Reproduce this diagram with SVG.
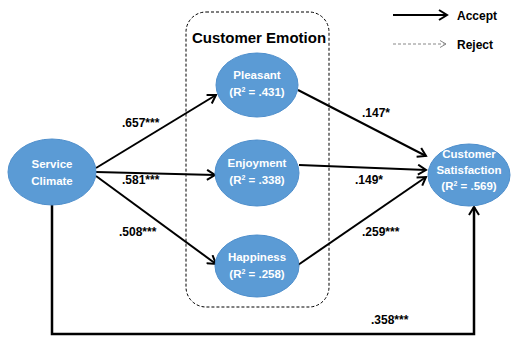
<svg xmlns="http://www.w3.org/2000/svg" width="512" height="338" viewBox="0 0 512 338">
<defs>
<marker id="ah" markerWidth="12" markerHeight="12" refX="9" refY="6" orient="auto" markerUnits="userSpaceOnUse">
<path d="M1,1 L9,6 L1,11" fill="none" stroke="#000" stroke-width="2"/>
</marker>
<marker id="ahg" markerWidth="10" markerHeight="10" refX="7" refY="5" orient="auto" markerUnits="userSpaceOnUse">
<path d="M1,1.5 L7,5 L1,8.5" fill="none" stroke="#888" stroke-width="1"/>
</marker>
</defs>
<style>
.node{fill:#5b9bd5;stroke:#4f8fcc;stroke-width:1}
.nt{font-family:"Liberation Sans",Arial,sans-serif;font-weight:bold;font-size:11.5px;fill:#fff;text-anchor:middle}
.lbl{font-family:"Liberation Sans",Arial,sans-serif;font-weight:bold;font-size:12px;fill:#000}
.edge{fill:none;stroke:#000;stroke-width:2;marker-end:url(#ah)}
</style>
<rect width="512" height="338" fill="#fff"/>
<g id="group-emotion">
<rect x="186" y="12" width="143" height="295" rx="20" ry="20" fill="none" stroke="#000" stroke-width="1" stroke-dasharray="3,2"/>
<text x="259" y="43" font-family="Liberation Sans,Arial,sans-serif" font-weight="bold" font-size="15" text-anchor="middle" fill="#000">Customer Emotion</text>
</g>
<g id="legend">
<line x1="393" y1="15" x2="447" y2="15" stroke="#000" stroke-width="2" marker-end="url(#ah)"/>
<text x="457" y="20" class="lbl" font-size="13">Accept</text>
<line x1="393" y1="44" x2="446" y2="44" stroke="#888" stroke-width="1" stroke-dasharray="3,2" marker-end="url(#ahg)"/>
<text x="457" y="49" class="lbl" font-size="13">Reject</text>
</g>
<g id="connectors">
<line class="edge" x1="96" y1="168" x2="216" y2="95"/>
<line class="edge" x1="96" y1="172" x2="215" y2="175"/>
<line class="edge" x1="96" y1="176" x2="216" y2="264"/>
<line class="edge" x1="298" y1="90" x2="426" y2="156"/>
<line class="edge" x1="299" y1="165" x2="426" y2="170"/>
<line class="edge" x1="298" y1="265" x2="426" y2="177"/>
<polyline points="52,205 52,334 474,334 474,207" fill="none" stroke="#000" stroke-width="2.5" marker-end="url(#ah)"/>
<text class="lbl" x="122" y="127">.657***</text>
<text class="lbl" x="122" y="184">.581***</text>
<text class="lbl" x="119" y="236">.508***</text>
<text class="lbl" x="362" y="117">.147*</text>
<text class="lbl" x="355" y="184">.149*</text>
<text class="lbl" x="362" y="236">.259***</text>
<text class="lbl" x="371" y="324">.358***</text>
</g>
<g id="node-service-climate">
<ellipse class="node" cx="52" cy="172" rx="44" ry="33"/>
<text class="nt" x="52" y="168">Service</text>
<text class="nt" x="52" y="185">Climate</text>
</g>
<g id="node-pleasant">
<ellipse class="node" cx="257" cy="85" rx="41" ry="32"/>
<text class="nt" x="257" y="79">Pleasant</text>
<text class="nt" x="257" y="96">(R<tspan font-size="7" dy="-4">2</tspan><tspan dy="4"> = .431)</tspan></text>
</g>
<g id="node-enjoyment">
<ellipse class="node" cx="257" cy="173" rx="42" ry="33"/>
<text class="nt" x="257" y="167">Enjoyment</text>
<text class="nt" x="257" y="184">(R<tspan font-size="7" dy="-4">2</tspan><tspan dy="4"> = .338)</tspan></text>
</g>
<g id="node-happiness">
<ellipse class="node" cx="257" cy="266" rx="42" ry="31"/>
<text class="nt" x="257" y="261">Happiness</text>
<text class="nt" x="257" y="278">(R<tspan font-size="7" dy="-4">2</tspan><tspan dy="4"> = .258)</tspan></text>
</g>
<g id="node-customer-satisfaction">
<ellipse class="node" cx="469" cy="175" rx="41" ry="31"/>
<text class="nt" x="469" y="158">Customer</text>
<text class="nt" x="469" y="174">Satisfaction</text>
<text class="nt" x="469" y="190">(R<tspan font-size="7" dy="-4">2</tspan><tspan dy="4"> = .569)</tspan></text>
</g>
</svg>
